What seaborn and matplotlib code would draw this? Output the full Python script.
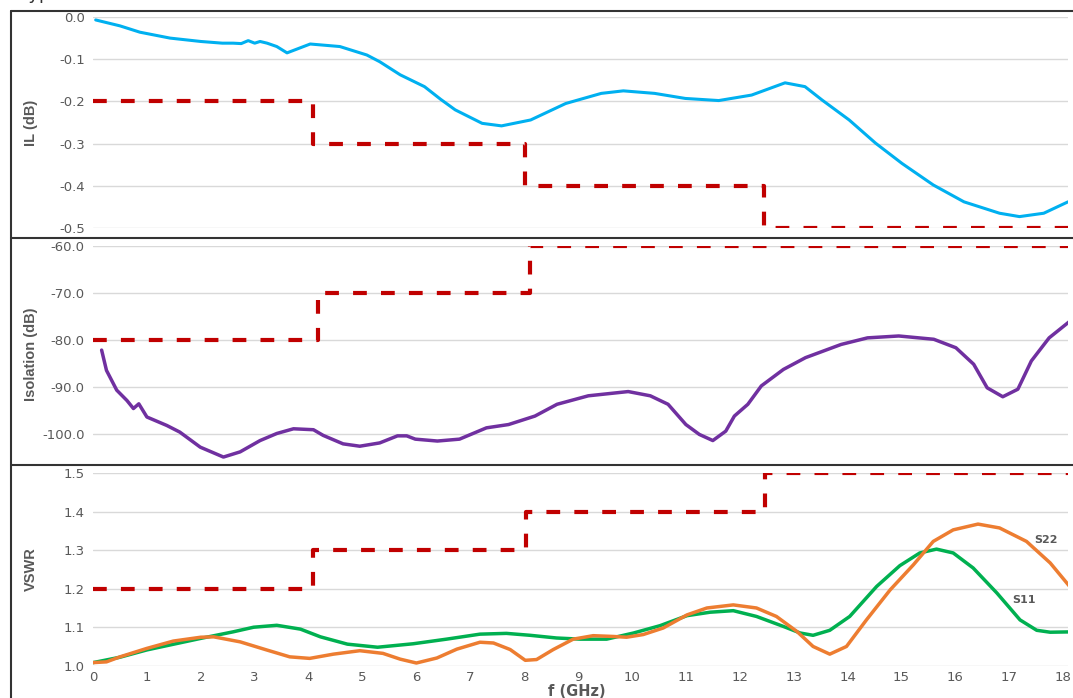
import pandas as pd
import matplotlib.pyplot as plt
from matplotlib.lines import Line2D
import seaborn as sns

# Insertion loss (dB)
freq_il = [0.05, 0.5, 0.87, 1.43, 2.0, 2.4, 2.6, 2.75, 2.88, 3.0, 3.1, 3.23, 3.41, 3.6, 4.03,
           4.58, 5.08, 5.32, 5.7, 6.15, 6.45, 6.72, 7.22, 7.58, 8.12, 8.77, 9.43, 9.84, 10.42,
           10.99, 11.61, 12.22, 12.84, 13.21, 13.53, 14.03, 14.52, 15.01, 15.59, 16.16,
           16.82, 17.19, 17.64, 18.09]
il_db = [-0.007, -0.021, -0.036, -0.050, -0.058, -0.062, -0.062, -0.063, -0.056, -0.062,
         -0.058, -0.062, -0.070, -0.085, -0.064, -0.070, -0.090, -0.106, -0.137, -0.165,
         -0.195, -0.220, -0.252, -0.258, -0.244, -0.205, -0.181, -0.175, -0.181, -0.193,
         -0.198, -0.185, -0.156, -0.165, -0.197, -0.244, -0.299, -0.347, -0.398, -0.438,
         -0.465, -0.473, -0.465, -0.438]
il_spec_f = [0, 4.08, 8.02, 12.45, 18.2]
il_spec = [-0.2, -0.3, -0.4, -0.5, -0.5]

# Isolation (dB)
freq_iso = [0.16, 0.25, 0.44, 0.63, 0.75, 0.85, 1.0, 1.37, 1.61, 1.99, 2.42, 2.73, 3.1, 3.41,
            3.72, 4.09, 4.27, 4.64, 4.95, 5.32, 5.65, 5.82, 5.98, 6.39, 6.8, 7.3, 7.71, 8.2,
            8.61, 9.19, 9.93, 10.34, 10.67, 11.0, 11.25, 11.5, 11.74, 11.9, 12.15, 12.4,
            12.81, 13.22, 13.88, 14.37, 14.95, 15.6, 16.01, 16.34, 16.59, 16.88, 17.16,
            17.41, 17.74, 18.11]
iso_db = [-82.1, -86.4, -90.6, -92.8, -94.5, -93.5, -96.3, -98.1, -99.5, -102.7, -104.8,
          -103.7, -101.3, -99.8, -98.8, -99.0, -100.2, -102.0, -102.5, -101.8, -100.3,
          -100.3, -101.0, -101.4, -101.0, -98.6, -97.9, -96.1, -93.6, -91.8, -90.9, -91.8,
          -93.6, -97.9, -100.0, -101.3, -99.3, -96.1, -93.6, -89.7, -86.2, -83.7, -80.9,
          -79.5, -79.1, -79.8, -81.6, -85.1, -90.1, -92.0, -90.4, -84.4, -79.5, -76.1]
iso_spec_f = [0, 4.17, 8.1, 18.2]
iso_spec = [-80, -70, -60, -60]

# VSWR
freq_s11 = [0, 0.5, 1.0, 2.0, 2.6, 2.98, 3.41, 3.85, 4.22, 4.72, 5.28, 5.94, 6.56, 7.18, 7.67,
            8.11, 8.6, 9.04, 9.53, 10.03, 10.52, 11.02, 11.45, 11.88, 12.31, 12.81, 13.12,
            13.36, 13.67, 14.04, 14.54, 14.97, 15.34, 15.65, 15.96, 16.33, 16.77, 17.2,
            17.51, 17.76, 18.18]
s11 = [1.008, 1.022, 1.041, 1.071, 1.088, 1.100, 1.105, 1.095, 1.075, 1.056, 1.048, 1.057,
       1.069, 1.082, 1.084, 1.079, 1.072, 1.069, 1.069, 1.085, 1.104, 1.130, 1.139, 1.143,
       1.128, 1.102, 1.085, 1.079, 1.092, 1.128, 1.206, 1.260, 1.293, 1.303, 1.293, 1.254,
       1.189, 1.119, 1.092, 1.087, 1.088]
freq_s22 = [0, 0.25, 0.5, 1.0, 1.49, 2.0, 2.24, 2.73, 3.22, 3.65, 4.02, 4.46, 4.95, 5.38, 5.7,
            6.0, 6.38, 6.75, 7.18, 7.43, 7.74, 8.02, 8.23, 8.54, 8.91, 9.28, 9.65, 9.9,
            10.21, 10.58, 11.02, 11.39, 11.88, 12.31, 12.68, 13.06, 13.36, 13.67, 13.98,
            14.35, 14.79, 15.22, 15.59, 15.96, 16.42, 16.82, 17.32, 17.76, 18.18]
s22 = [1.008, 1.010, 1.023, 1.045, 1.064, 1.074, 1.075, 1.062, 1.041, 1.023, 1.019, 1.030,
       1.039, 1.032, 1.017, 1.007, 1.020, 1.043, 1.061, 1.059, 1.042, 1.014, 1.016, 1.042,
       1.069, 1.078, 1.076, 1.074, 1.081, 1.098, 1.132, 1.150, 1.158, 1.150, 1.128, 1.089,
       1.050, 1.030, 1.050, 1.119, 1.197, 1.262, 1.323, 1.353, 1.368, 1.358, 1.323, 1.267,
       1.196]
vswr_spec_f = [0, 4.08, 8.03, 12.47, 18.2]
vswr_spec = [1.2, 1.3, 1.4, 1.5, 1.5]

x_ticks = list(range(0, 19))

sns.set_theme(style="white")
plt.rcParams['font.family'] = ['DejaVu Sans']

TXT = '#595959'
GRID = '#d9d9d9'
SPEC = '#C00000'
spec_ls = (0, (3.3, 3.4))
label_font = ['Liberation Sans Narrow', 'Liberation Sans', 'DejaVu Sans']

W, H = 1073, 698
fig = plt.figure(figsize=(W / 100, H / 100), dpi=100)

def px_axes(top, bottom, left=93, right=1068):
    return fig.add_axes([left / W, 1 - bottom / H, (right - left) / W, (bottom - top) / H])

ax_il = px_axes(17, 228)
ax_iso = px_axes(246, 462.7)
ax_vs = px_axes(473.3, 665.7)

# IL panel
sns.lineplot(x=freq_il, y=il_db, ax=ax_il, color='#00B0F0', linewidth=2.2, estimator=None)
sns.lineplot(x=il_spec_f, y=il_spec, ax=ax_il, color=SPEC, linewidth=3, linestyle=spec_ls,
             drawstyle='steps-post', estimator=None)
ax_il.set_ylim(-0.5, 0.0)
ax_il.set_yticks([0.0, -0.1, -0.2, -0.3, -0.4, -0.5])
ax_il.set_yticklabels(['0.0', '-0.1', '-0.2', '-0.3', '-0.4', '-0.5'])
ax_il.set_ylabel('IL (dB)')

# Isolation panel
sns.lineplot(x=freq_iso, y=iso_db, ax=ax_iso, color='#7030A0', linewidth=2.5, estimator=None)
sns.lineplot(x=iso_spec_f, y=iso_spec, ax=ax_iso, color=SPEC, linewidth=3, linestyle=spec_ls,
             drawstyle='steps-post', estimator=None)
ax_iso.set_ylim(-106, -60)
ax_iso.set_yticks([-60, -70, -80, -90, -100])
ax_iso.set_yticklabels(['-60.0', '-70.0', '-80.0', '-90.0', '-100.0'])
ax_iso.set_ylabel('Isolation (dB)')

# VSWR panel
sns.lineplot(x=freq_s11, y=s11, ax=ax_vs, color='#00B050', linewidth=2.5, estimator=None)
sns.lineplot(x=freq_s22, y=s22, ax=ax_vs, color='#ED7D31', linewidth=2.5, estimator=None)
sns.lineplot(x=vswr_spec_f, y=vswr_spec, ax=ax_vs, color=SPEC, linewidth=3, linestyle=spec_ls,
             drawstyle='steps-post', estimator=None)
ax_vs.set_ylim(1.0, 1.5)
ax_vs.set_yticks([1.0, 1.1, 1.2, 1.3, 1.4, 1.5])
ax_vs.set_yticklabels(['1.0', '1.1', '1.2', '1.3', '1.4', '1.5'])
ax_vs.set_ylabel('VSWR')
ax_vs.text(17.68, 1.327, 'S22', color=TXT, fontsize=8, fontweight='bold', ha='center', va='center')
ax_vs.text(17.27, 1.171, 'S11', color=TXT, fontsize=8, fontweight='bold', ha='center', va='center')

for ax in (ax_il, ax_iso, ax_vs):
    ax.set_xlim(0, 18.09)
    ax.set_xticks(x_ticks)
    ax.set_xlabel('')
    ax.grid(axis='y', color=GRID, linewidth=1)
    ax.set_axisbelow(True)
    for s in ax.spines.values():
        s.set_visible(False)
    ax.tick_params(axis='both', length=0, labelsize=9.5, labelcolor=TXT, pad=6)
    ax.yaxis.label.set_color(TXT)
    ax.yaxis.label.set_fontsize(10.5)
    ax.yaxis.label.set_fontweight('bold')
    ax.yaxis.label.set_family(label_font)
    ax.yaxis.set_label_coords((38 - 93) / 975, 0.5)

ax_il.tick_params(axis='x', labelbottom=False)
ax_iso.tick_params(axis='x', labelbottom=False)
ax_vs.tick_params(axis='x', pad=4)

fig.text(577 / W, 1 - 692 / H, 'f (GHz)', ha='center', va='center', color=TXT,
         fontsize=10.5, fontweight='bold')
# title sits above the cropped top edge, only its descenders show
fig.text(20 / W, 1 + 1 / H, 'Typical Performance', ha='left', va='baseline', color='#333333',
         fontsize=13)

# panel borders
for yp in (11, 238, 465):
    fig.add_artist(Line2D([11 / W, 1], [1 - yp / H, 1 - yp / H], color='#333333', linewidth=1.5))
fig.add_artist(Line2D([11 / W, 11 / W], [0, 1 - 11 / H], color='#333333', linewidth=1.5))

fig.savefig('out.png', dpi=100)
